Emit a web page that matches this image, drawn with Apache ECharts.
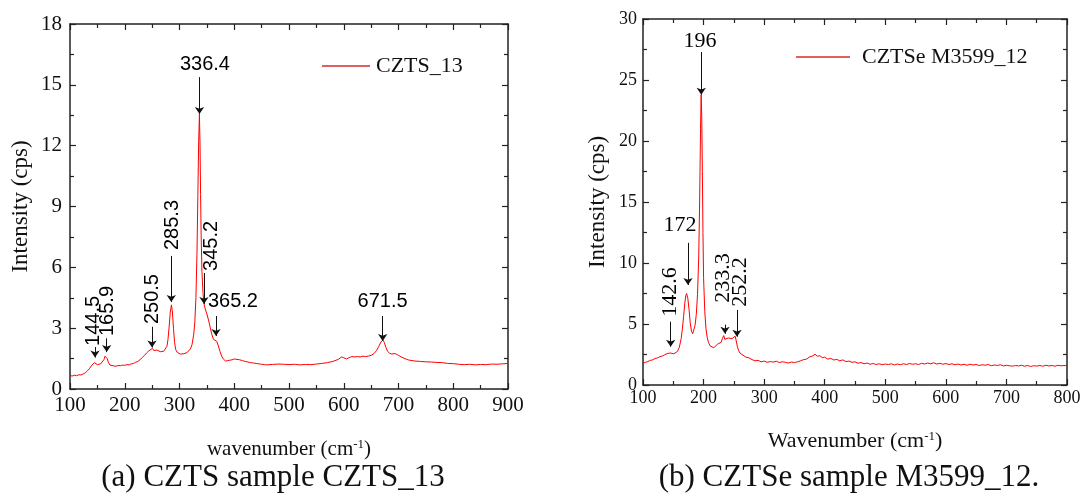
<!DOCTYPE html>
<html>
<head>
<meta charset="utf-8">
<script src="https://cdn.jsdelivr.net/npm/echarts@6/dist/echarts.min.js"></script>
<style>
html,body{margin:0;padding:0;background:#fff;}
#chart{width:1088px;height:497px;}
</style>
</head>
<body>
<div id="chart"></div>
<script>
// ---------- (a) CZTS_13 spectrum ----------
const cztsWavenumber = [100,104,108,112,116,120,124,128,132,136,140,142,144.5,147,150,153,156,159,162,164,165.9,168,170,173,176,180,184,188,192,196,200,204,208,212,216,220,224,228,232,236,240,244,247,250.5,253,256,259,262,265,268,271,274,277,279,281,283,285.3,287,289,291,293,296,299,302,305,308,311,314,317,320,323,326,328,330,332,333.5,335,336.4,337.5,338.5,339.5,341,343,345.2,347,350,353,356,359,362,365.2,368,371,374,377,380,384,388,392,396,400,405,410,415,420,425,430,435,440,445,450,455,460,470,480,490,500,510,520,530,540,550,560,570,580,590,596,600,605,610,615,620,625,630,635,640,645,650,655,660,664,668,671.5,674,677,680,684,688,692,696,700,705,710,715,720,730,740,750,760,770,780,790,800,810,820,830,840,850,860,870,880,890,900];
const cztsIntensity = [0.66,0.64,0.68,0.66,0.70,0.69,0.74,0.80,0.90,1.02,1.18,1.24,1.30,1.26,1.20,1.22,1.24,1.30,1.45,1.62,1.70,1.50,1.32,1.18,1.12,1.14,1.12,1.16,1.15,1.18,1.17,1.20,1.19,1.24,1.26,1.32,1.36,1.45,1.55,1.66,1.78,1.88,1.95,2.00,1.90,1.86,1.92,1.88,1.84,1.90,1.86,1.92,2.10,2.45,3.05,3.75,4.15,3.80,3.00,2.30,1.95,1.80,1.74,1.72,1.70,1.74,1.72,1.80,1.86,1.98,2.20,2.70,3.30,4.50,6.80,9.50,12.2,13.55,12.0,9.6,7.6,5.8,4.7,4.15,3.95,3.70,3.40,3.05,2.70,2.45,2.52,2.35,2.12,1.85,1.62,1.48,1.38,1.40,1.42,1.44,1.48,1.46,1.44,1.40,1.36,1.33,1.30,1.28,1.26,1.24,1.22,1.20,1.19,1.21,1.23,1.22,1.20,1.22,1.19,1.21,1.20,1.23,1.26,1.30,1.36,1.46,1.58,1.54,1.48,1.55,1.60,1.58,1.60,1.58,1.62,1.60,1.62,1.66,1.74,1.90,2.10,2.32,2.42,2.30,2.05,1.86,1.76,1.72,1.75,1.72,1.66,1.58,1.52,1.46,1.42,1.38,1.36,1.34,1.33,1.31,1.30,1.26,1.25,1.22,1.20,1.22,1.19,1.21,1.20,1.23,1.22,1.24,1.26];
const cztsPeakNames = ['144.5','165.9','250.5','285.3','336.4','345.2','365.2','671.5'];
const cztsArrowX    = [145.7,167,249.8,285,336.5,344.7,366.7,671.1];
const cztsArrowFrom = [2.07,2.5,3.07,6.56,15.38,5.72,3.6,3.6];
const cztsArrowTo   = [1.55,1.82,2.05,4.29,13.56,4.19,2.61,2.37];
const cztsLabelX    = [143.8,169.4,251.6,288,346.6,359.4,397.7,671.1];
const cztsLabelY    = [2.12,2.61,3.2,6.85,15.98,5.82,4.3,4.3];
const cztsLabelVertical = [true,true,true,true,false,true,false,false];

// ---------- (b) CZTSe M3599_12 spectrum ----------
const czTSeWavenumber = [100,104,108,112,116,120,124,128,132,136,140,142.6,145,148,151,154,157,160,163,165,167,169,170.5,172,174,176,178,180,182,184,186,188,190,192,193.5,195,196,197,198,199,200,202,204,206,208,211,214,217,220,223,226,229,231,233.3,235,238,241,244,247,250,252.2,254,256,258,260,265,270,275,280,285,290,295,300,305,310,315,320,325,330,335,340,345,350,355,360,365,370,375,380,384,388,392,396,400,405,410,415,420,425,430,435,440,445,450,455,460,465,470,475,480,485,490,495,500,505,510,515,520,525,530,535,540,545,550,555,560,565,570,575,580,585,590,595,600,605,610,615,620,625,630,635,640,645,650,655,660,665,670,675,680,685,690,695,700,705,710,715,720,725,730,735,740,745,750,755,760,765,770,775,780,785,790,795,800];
const czTSeIntensity = [1.78,1.86,1.92,2.02,2.06,2.18,2.22,2.32,2.38,2.48,2.58,2.72,2.62,2.50,2.56,2.58,2.76,3.10,3.80,4.60,5.60,6.70,7.30,7.50,7.10,6.20,5.10,4.40,4.20,4.35,4.90,5.80,7.40,10.5,15.0,21.0,23.8,22.0,17.5,12.5,8.8,6.0,4.6,3.9,3.5,3.2,3.1,3.05,3.20,3.35,3.30,3.50,3.80,4.05,3.75,3.70,3.85,3.75,3.80,3.85,4.00,3.60,3.10,2.80,2.62,2.45,2.28,2.22,2.08,1.98,2.02,1.90,1.96,1.86,1.92,1.88,1.95,1.84,1.90,1.86,1.80,1.88,1.84,1.90,1.98,2.08,2.12,2.30,2.38,2.52,2.36,2.40,2.24,2.28,2.12,2.18,2.05,2.10,1.98,2.06,1.92,1.96,1.86,1.90,1.78,1.84,1.74,1.80,1.70,1.76,1.68,1.74,1.66,1.72,1.68,1.74,1.64,1.72,1.66,1.74,1.68,1.76,1.70,1.74,1.68,1.78,1.72,1.80,1.74,1.82,1.72,1.78,1.70,1.76,1.68,1.74,1.66,1.72,1.64,1.70,1.62,1.70,1.64,1.68,1.60,1.66,1.62,1.68,1.58,1.64,1.60,1.66,1.56,1.62,1.58,1.54,1.60,1.56,1.62,1.54,1.60,1.52,1.58,1.55,1.60,1.54,1.62,1.56,1.60,1.54,1.62,1.57,1.60,1.58];
const czTSePeakNames = ['142.6','172','196','233.3','252.2'];
const czTSeArrowX    = [145.7,174.3,196.2,235.4,255.2];
const czTSeArrowFrom = [5.19,11.65,27.3,4.95,6.15];
const czTSeArrowTo   = [3.14,8.2,23.8,4.2,3.96];
const czTSeLabelX    = [144.6,161.1,194.1,232.1,260.1];
const czTSeLabelY    = [5.6,13.1,28.2,6.73,6.4];
const czTSeLabelVertical = [true,false,false,true,true];

const SERIF = '"Liberation Serif","Times New Roman",serif';
const SANS = '"Liberation Sans",Arial,sans-serif';

function zip(a,b){ return a.map((v,i)=>[v,b[i]]); }

function annotationSeries(xi, yi, names, lx, ly, vert, ax, af, at, font, size){
  return {
    type:'scatter', xAxisIndex:xi, yAxisIndex:yi, silent:true,
    symbol:'circle', symbolSize:0.1, itemStyle:{color:'rgba(0,0,0,0)', opacity:1},
    z:5,
    data: names.map((n,i)=>({
      value:[lx[i], ly[i]],
      label:{
        show:true, formatter:n, position:[0,0],
        rotate: vert[i] ? 90 : 0,
        align: vert[i] ? 'left' : 'center',
        verticalAlign:'middle',
        fontFamily:font, fontSize:size, color:'#000', opacity:1
      }
    })),
    markLine:{
      silent:true, symbol:['none','arrow'], symbolSize:7, animation:false,
      label:{show:false},
      lineStyle:{color:'#111', width:1, type:'solid', opacity:1},
      emphasis:{disabled:true},
      data: ax.map((x,i)=>[{coord:[x, af[i]]},{coord:[x, at[i]]}])
    }
  };
}

function xAxisCfg(grid, min, max, top, name, nameGap, nameSize, labelSize, labelMargin){
  return {
    type:'value', gridIndex:grid, min:min, max:max, interval:100,
    position: top ? 'top' : 'bottom',
    axisLine:{show:true, onZero:false, lineStyle:{color:'#222', width:1.5}},
    axisTick:{show:true, inside:true, length:6, lineStyle:{color:'#222', width:1.2}},
    minorTick:{show:true, splitNumber:2, length:4, lineStyle:{color:'#222', width:1.2}},
    splitLine:{show:false}, minorSplitLine:{show:false},
    axisLabel:{show:!top, fontFamily:SERIF, fontSize:labelSize, color:'#111', margin:labelMargin},
    name: top ? '' : name, nameLocation:'middle', nameGap:nameGap,
    nameTextStyle:{fontFamily:SERIF, fontSize:nameSize, color:'#111',
      rich:{sup:{fontFamily:SERIF, fontSize:Math.round(nameSize*0.6), color:'#111', verticalAlign:'top', padding:[0,0,10,0]}}}
  };
}
function yAxisCfg(grid, max, interval, right, name, nameGap, nameSize, labelSize, labelMargin){
  return {
    type:'value', gridIndex:grid, min:0, max:max, interval:interval,
    position: right ? 'right' : 'left',
    axisLine:{show:true, onZero:false, lineStyle:{color:'#222', width:1.5}},
    axisTick:{show:true, inside:true, length:6, lineStyle:{color:'#222', width:1.2}},
    minorTick:{show:true, splitNumber:2, length:4, lineStyle:{color:'#222', width:1.2}},
    splitLine:{show:false}, minorSplitLine:{show:false},
    axisLabel:{show:!right, fontFamily:SERIF, fontSize:labelSize, color:'#111', margin:labelMargin},
    name: right ? '' : name, nameLocation:'middle', nameGap:nameGap,
    nameTextStyle:{fontFamily:SERIF, fontSize:nameSize, color:'#111'}
  };
}

const chart = echarts.init(document.getElementById('chart'), null, {renderer:'canvas'});
const option = {
  animation:false,
  backgroundColor:'#fff',
  grid:[
    {left:70, top:24, width:438, height:365},
    {left:643, top:19, width:424, height:366}
  ],
  xAxis:[
    xAxisCfg(0,100,900,false,'wavenumber (cm{sup|-1})',49,21,21,6),
    xAxisCfg(0,100,900,true),
    xAxisCfg(1,100,800,false,'Wavenumber (cm{sup|-1})',45,22,18,4),
    xAxisCfg(1,100,800,true)
  ],
  yAxis:[
    yAxisCfg(0,18,3,false,'Intensity (cps)',38,23,21,8),
    yAxisCfg(0,18,3,true),
    yAxisCfg(1,30,5,false,'Intensity (cps)',34,23,18,6),
    yAxisCfg(1,30,5,true)
  ],
  legend:[
    {left:317, top:50, icon:'rect', itemWidth:48, itemHeight:2, itemGap:10,
     textStyle:{fontFamily:SERIF, fontSize:22, color:'#111', padding:[0,0,0,1]},
     data:[{name:'CZTS_13', itemStyle:{color:'#e06060'}}]},
    {left:791, top:41, icon:'rect', itemWidth:54, itemHeight:2,
     textStyle:{fontFamily:SERIF, fontSize:22, color:'#111', padding:[0,0,0,7]},
     data:[{name:'CZTSe M3599_12', itemStyle:{color:'#e06060'}}]}
  ],
  series:[
    {name:'CZTS_13', type:'line', xAxisIndex:0, yAxisIndex:0, symbol:'none', showSymbol:false,
     lineStyle:{color:'#ff0000', width:1}, itemStyle:{color:'#ff0000'}, data:zip(cztsWavenumber,cztsIntensity), z:3},
    annotationSeries(0,0,cztsPeakNames,cztsLabelX,cztsLabelY,cztsLabelVertical,cztsArrowX,cztsArrowFrom,cztsArrowTo,SANS,20),
    {name:'CZTSe M3599_12', type:'line', xAxisIndex:2, yAxisIndex:2, symbol:'none', showSymbol:false,
     lineStyle:{color:'#ff0000', width:1}, itemStyle:{color:'#ff0000'}, data:zip(czTSeWavenumber,czTSeIntensity), z:3},
    annotationSeries(2,2,czTSePeakNames,czTSeLabelX,czTSeLabelY,czTSeLabelVertical,czTSeArrowX,czTSeArrowFrom,czTSeArrowTo,SERIF,22)
  ],
  graphic:[
    {type:'text', x:273, y:478, style:{text:'(a) CZTS sample CZTS_13', fontFamily:SERIF, fontSize:31, fill:'#111', align:'center', verticalAlign:'middle'}},
    {type:'text', x:849, y:478, style:{text:'(b) CZTSe sample M3599_12.', fontFamily:SERIF, fontSize:31, fill:'#111', align:'center', verticalAlign:'middle'}}
  ]
};
chart.setOption(option);
</script>
</body>
</html>
